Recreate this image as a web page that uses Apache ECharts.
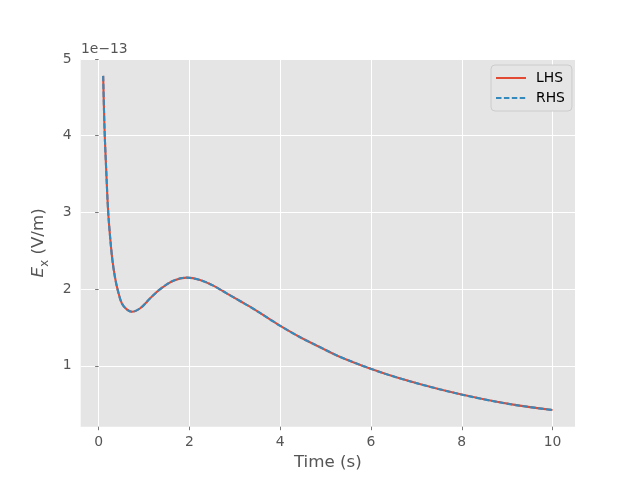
<!DOCTYPE html>
<html><head><meta charset="utf-8">
<script src="https://cdn.jsdelivr.net/npm/echarts@6/dist/echarts.min.js"></script>
<style>html,body{margin:0;padding:0;background:#fff}#c{width:640px;height:480px}</style>
</head><body><div id="c"></div>
<script>
// time (s)
const timeValues = [0.1, 0.118, 0.135, 0.165, 0.208, 0.25, 0.303, 0.36, 0.42, 0.51, 0.62, 0.734, 0.916, 1.136, 1.356, 1.648, 1.94, 2.235, 2.527, 2.82, 3.114, 3.334, 3.774, 3.993, 4.43, 4.87, 5.31, 6.01, 6.63, 7.51, 8.46, 9.2, 10];
// E_x in units of 1e-13 V/m
const lhsValues = [4.78, 4.34, 4.0, 3.58, 3.03, 2.70, 2.38, 2.155, 1.99, 1.815, 1.735, 1.705, 1.75, 1.88, 2.0, 2.11, 2.149, 2.119, 2.045, 1.945, 1.845, 1.771, 1.606, 1.523, 1.375, 1.245, 1.119, 0.958, 0.837, 0.694, 0.566, 0.487, 0.424];
const rhsValues = [4.78, 4.34, 4.0, 3.58, 3.03, 2.70, 2.38, 2.155, 1.99, 1.815, 1.735, 1.705, 1.75, 1.88, 2.0, 2.11, 2.149, 2.119, 2.045, 1.945, 1.845, 1.771, 1.606, 1.523, 1.375, 1.245, 1.119, 0.958, 0.837, 0.694, 0.566, 0.487, 0.424];
const xTicks = [0, 2, 4, 6, 8, 10];
const yTicks = [1, 2, 3, 4, 5];
const seriesNames = ['LHS', 'RHS'];
const yOffsetText = '1e\u221213';

const lhsData = timeValues.map((t, i) => [t, lhsValues[i]]);
const rhsData = timeValues.map((t, i) => [t, rhsValues[i]]);

const FONT = 'DejaVu Sans';
const chart = echarts.init(document.getElementById('c'), null, {renderer: 'canvas'});
chart.setOption({
  animation: false,
  backgroundColor: '#ffffff',
  textStyle: {fontFamily: FONT},
  grid: {left: 80.7, right: 65, top: 59, bottom: 53.3, show: true, backgroundColor: '#E5E5E5', borderWidth: 0},
  graphic: [{
    type: 'text', left: 81, top: 42,
    style: {text: yOffsetText, fontFamily: FONT, fontSize: 13.9, fill: '#555555'}
  }],
  legend: {
    orient: 'vertical', left: 491, top: 65,
    padding: [6, 7, 6, 4], itemGap: 6, itemWidth: 30, itemHeight: 14,
    backgroundColor: '#E5E5E5', borderColor: '#CCCCCC', borderWidth: 1, borderRadius: 4,
    itemStyle: {opacity: 0},
    textStyle: {fontFamily: FONT, fontSize: 13.9, color: '#000', padding: [0, 0, 0, 5]},
    data: seriesNames
  },
  xAxis: {
    type: 'value', min: -0.395, max: 10.495,
    name: 'Time (s)', nameLocation: 'middle', nameGap: 20,
    nameTextStyle: {fontFamily: FONT, fontSize: 16.7, color: '#555555', verticalAlign: 'top'},
    axisLine: {show: false},
    axisTick: {show: true, length: 3.5, lineStyle: {color: '#555555', width: 0.8}, customValues: xTicks},
    axisLabel: {fontFamily: FONT, fontSize: 13.9, color: '#555555', margin: 9, customValues: xTicks},
    splitLine: {show: true, lineStyle: {color: '#ffffff', width: 1}}
  },
  yAxis: {
    type: 'value', min: 0.206, max: 5.0,
    name: '{i|E}{s|x}{n| (V/m)}', nameLocation: 'middle', nameGap: 30, nameRotate: 90,
    nameTextStyle: {
      fontFamily: FONT, fontSize: 16.7, color: '#555555',
      rich: {
        i: {fontFamily: FONT, fontSize: 16.7, fontStyle: 'italic', color: '#555555'},
        s: {fontFamily: FONT, fontSize: 11.7, color: '#555555', padding: [12, 0, 0, 0]},
        n: {fontFamily: FONT, fontSize: 16.7, color: '#555555'}
      }
    },
    axisLine: {show: false},
    axisTick: {show: true, length: 3.5, lineStyle: {color: '#555555', width: 0.8}, customValues: yTicks},
    axisLabel: {fontFamily: FONT, fontSize: 13.9, color: '#555555', margin: 9, customValues: yTicks},
    splitLine: {show: true, lineStyle: {color: '#ffffff', width: 1}}
  },
  series: [
    {name: seriesNames[0], type: 'line', data: lhsData, showSymbol: false, symbol: 'none',
     smooth: 0.35,
     lineStyle: {color: '#E24A33', width: 2.1}, itemStyle: {color: '#E24A33'}},
    {name: seriesNames[1], type: 'line', data: rhsData, showSymbol: false, symbol: 'none',
     smooth: 0.35,
     lineStyle: {color: '#348ABD', width: 2.1, type: [5.5, 2.4]}, itemStyle: {color: '#348ABD'}}
  ]
});
</script></body></html>
